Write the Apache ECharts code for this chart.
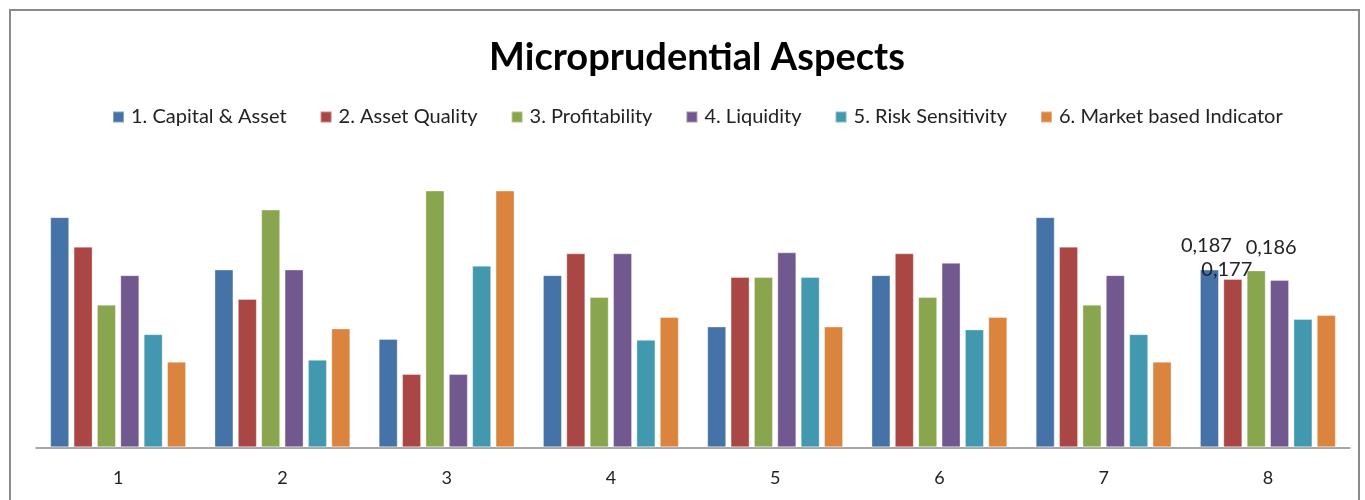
<!DOCTYPE html>
<html>
<head>
<meta charset="utf-8">
<script src="https://cdn.jsdelivr.net/npm/echarts@6/dist/echarts.min.js"></script>
<style>
  html, body { margin: 0; padding: 0; background: #fff; }
  #chart { width: 1365px; height: 500px; }
</style>
</head>
<body>
<div id="chart"></div>
<script>
var categories = ['1', '2', '3', '4', '5', '6', '7', '8'];
var seriesNames = ['1. Capital & Asset', '2. Asset Quality', '3. Profitability', '4. Liquidity', '5. Risk Sensitivity', '6. Market based Indicator'];
var capital     = [0.242, 0.187, 0.114, 0.181, 0.127, 0.181, 0.242, 0.187];
var assetQual   = [0.211, 0.156, 0.077, 0.204, 0.179, 0.204, 0.211, 0.177];
var profit      = [0.150, 0.250, 0.270, 0.158, 0.179, 0.158, 0.150, 0.186];
var liquidity   = [0.181, 0.187, 0.077, 0.204, 0.205, 0.194, 0.181, 0.176];
var riskSens    = [0.119, 0.092, 0.191, 0.113, 0.179, 0.124, 0.119, 0.135];
var marketInd   = [0.090, 0.125, 0.270, 0.137, 0.127, 0.137, 0.090, 0.139];
// data labels shown only on category 8, for the first three series
var labelled = { 0: [7], 1: [7], 2: [7] };

var colors = ['#4572A7', '#AA4643', '#89A54E', '#71588F', '#4198AF', '#DB843D'];
var allValues = [capital, assetQual, profit, liquidity, riskSens, marketInd];
var labelOffsets = { 0: [-3, -12], 1: [-6, 3], 2: [15, -11] };

var font = 'Lato, "Open Sans", sans-serif';

var series = allValues.map(function (vals, i) {
  return {
    name: seriesNames[i],
    type: 'bar',
    barWidth: 19,
    barGap: '23%',
    itemStyle: { color: colors[i], borderColor: 'rgba(255,255,255,0.35)', borderWidth: 1 },
    data: vals.map(function (v, j) {
      if (labelled[i] && labelled[i].indexOf(j) >= 0) {
        return {
          value: v,
          label: {
            show: true,
            position: 'top',
            distance: 2,
            offset: labelOffsets[i],
            fontFamily: font,
            fontSize: 20,
            color: '#222',
            formatter: function (p) { return p.value.toFixed(3).replace('.', ','); }
          }
        };
      }
      return v;
    })
  };
});

var chart = echarts.init(document.getElementById('chart'));
chart.setOption({
  backgroundColor: '#ffffff',
  animation: false,
  color: colors,
  graphic: [{
    type: 'rect',
    shape: { x: 10, y: 10, width: 1349, height: 520 },
    style: { fill: 'none', stroke: '#8a8a8a', lineWidth: 2 },
    z: -1
  }],
  title: {
    text: 'Microprudential Aspects',
    left: 692,
    textAlign: 'center',
    top: 34,
    textStyle: { fontFamily: font, fontWeight: 'bold', fontSize: 38, color: '#000' }
  },
  legend: {
    top: 102,
    left: 107,
    itemWidth: 11,
    itemHeight: 11,
    itemGap: 33,
    icon: 'rect',
    textStyle: { fontFamily: font, fontSize: 20, color: '#222', padding: [0, 0, 0, 2] },
    data: seriesNames
  },
  grid: { left: 36, right: 15, top: 162, bottom: 52.7, containLabel: false },
  xAxis: {
    type: 'category',
    data: categories,
    axisTick: { show: false },
    axisLine: { lineStyle: { color: '#8a8a8a', width: 1.5 } },
    axisLabel: { fontFamily: font, fontSize: 18, color: '#222', margin: 22 }
  },
  yAxis: {
    type: 'value',
    min: 0,
    max: 0.3,
    show: false
  },
  series: series
});
</script>
</body>
</html>
